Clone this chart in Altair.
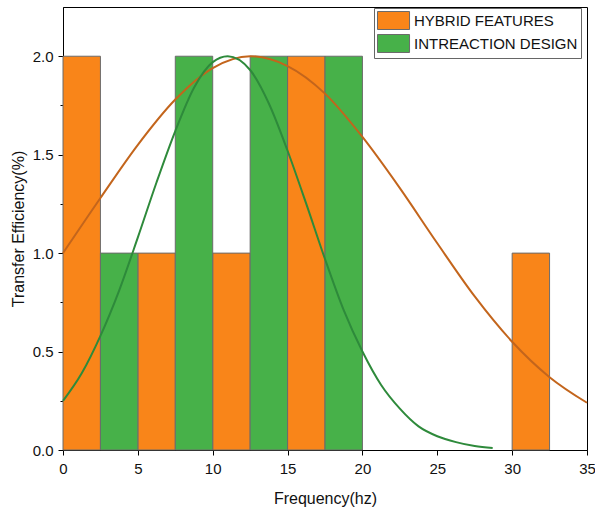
import altair as alt
import pandas as pd

# ---- data ----
hybrid_left = [0, 5, 10, 15, 30]
hybrid_right = [2.5, 7.5, 12.5, 17.5, 32.5]
hybrid_height = [2, 1, 1, 2, 1]

inter_left = [2.5, 7.5, 12.5, 17.5]
inter_right = [5, 10, 15, 20]
inter_height = [1, 2, 2, 2]

hybrid_curve_x = [0, 2.5, 5, 7.5, 10, 12.5, 15, 17.5, 20, 22.5, 25, 27.5, 30, 32.5, 35]
hybrid_curve_y = [1.00, 1.28, 1.55, 1.78, 1.94, 2.00, 1.95, 1.81, 1.59, 1.33, 1.05, 0.78, 0.55, 0.37, 0.24]

inter_curve_x = [0, 1.25, 2.5, 3.75, 5, 6.25, 7.5, 8.75, 10, 11, 12.5, 13.75, 15, 16.25, 17.5,
                 18.75, 20, 21.25, 22.5, 23.75, 25, 26.25, 27.5, 28.7]
inter_curve_y = [0.25, 0.39, 0.58, 0.81, 1.08, 1.36, 1.62, 1.84, 1.97, 2.00, 1.93, 1.76, 1.52, 1.25,
                 0.97, 0.71, 0.50, 0.33, 0.21, 0.12, 0.07, 0.04, 0.02, 0.01]

names = ["HYBRID FEATURES", "INTREACTION DESIGN"]
bar_colors = ["#F98519", "#47B149"]
curve_colors = ["#C3651C", "#2E8A3B"]

bars = pd.concat([
    pd.DataFrame({"left": hybrid_left, "right": hybrid_right, "h": hybrid_height, "series": names[0]}),
    pd.DataFrame({"left": inter_left, "right": inter_right, "h": inter_height, "series": names[1]}),
])
bars["base"] = 0
curve_h = pd.DataFrame({"x": hybrid_curve_x, "y": hybrid_curve_y})
curve_i = pd.DataFrame({"x": inter_curve_x, "y": inter_curve_y})

FONT = "Liberation Sans"

x_ticks = [i * 2.5 for i in range(15)]
y_ticks = [i * 0.25 for i in range(9)]

xscale = alt.Scale(domain=[0, 35], nice=False, zero=False)
yscale = alt.Scale(domain=[0, 2.25], nice=False)

xaxis = alt.Axis(
    title="Frequency(hz)", values=x_ticks,
    labelExpr="datum.value % 5 === 0 ? datum.label : ''",
    tickSize={"condition": {"test": "datum.value % 5 === 0", "value": 5}, "value": 3},
    labelOverlap=False, labelFlush=False, grid=False,
    domainColor="black", tickColor="black", labelColor="#111",
    labelFont=FONT, labelFontSize=15, labelPadding=6,
    titleFont=FONT, titleFontSize=16, titleFontWeight="normal", titleColor="#111",
    titlePadding=14,
)
yaxis = alt.Axis(
    title="Transfer Efficiency(%)", values=y_ticks, format=".1f",
    labelExpr="(round(datum.value*100) % 50 === 0) ? datum.label : ''",
    tickSize={"condition": {"test": "round(datum.value*100) % 50 === 0", "value": 5}, "value": 3},
    labelOverlap=False, labelFlush=False, grid=False,
    domainColor="black", tickColor="black", labelColor="#111",
    labelFont=FONT, labelFontSize=15, labelPadding=5,
    titleFont=FONT, titleFontSize=16, titleFontWeight="normal", titleColor="#111",
    titlePadding=6,
)

bar_layer = alt.Chart(bars).mark_bar(stroke="#6b6b6b", strokeWidth=1, opacity=1).encode(
    x=alt.X("left:Q", scale=xscale, axis=xaxis),
    x2="right:Q",
    y=alt.Y("h:Q", scale=yscale, axis=yaxis),
    y2="base:Q",
    color=alt.Color(
        "series:N",
        scale=alt.Scale(domain=names, range=bar_colors),
        legend=alt.Legend(
            title=None, orient="none", legendX=311, legendY=1,
            symbolType="M-1,-1L2.56,-1L2.56,1L-1,1Z", symbolSize=324,
            symbolStrokeColor="#6b6b6b", symbolStrokeWidth=1, symbolOpacity=1,
            labelFont=FONT, labelFontSize=15, labelColor="#111", labelOffset=18,
            rowPadding=0, padding=3, strokeColor="#666", fillColor="white",
            labelLimit=400,
        ),
    ),
)

line_h = alt.Chart(curve_h).mark_line(color=curve_colors[0], strokeWidth=2, interpolate="monotone").encode(
    x=alt.X("x:Q", scale=xscale), y=alt.Y("y:Q", scale=yscale)
)
line_i = alt.Chart(curve_i).mark_line(color=curve_colors[1], strokeWidth=2, interpolate="monotone").encode(
    x=alt.X("x:Q", scale=xscale), y=alt.Y("y:Q", scale=yscale)
)

chart = alt.layer(bar_layer, line_h, line_i).properties(
    width=524, height=443,
    autosize=alt.AutoSizeParams(type="none"),
    padding={"left": 63, "top": 7, "right": 8, "bottom": 60},
    background="white",
).configure_view(stroke="black", strokeWidth=1)

chart.save("out.html", embed_options={"renderer": "svg", "actions": False})
